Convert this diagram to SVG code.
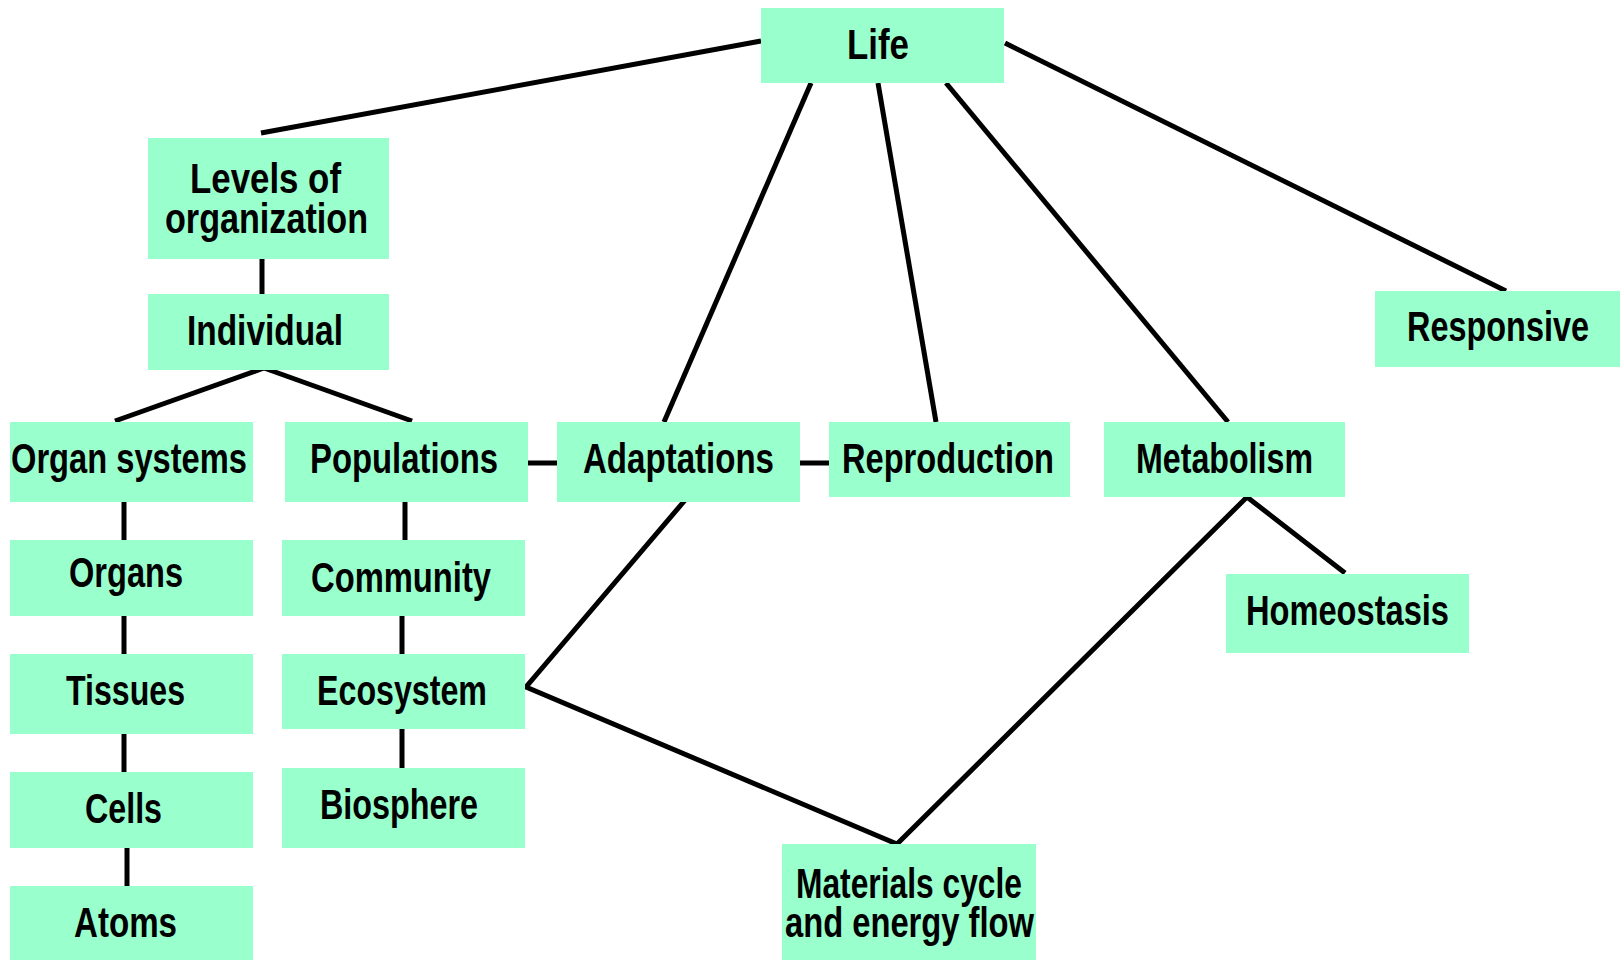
<svg xmlns="http://www.w3.org/2000/svg" width="1624" height="960" viewBox="0 0 1624 960">
<style>
.box{fill:#99ffcc}
.t{font-family:"Liberation Sans",Arial,sans-serif;font-weight:bold;font-size:42px;fill:#000}
.c{stroke:#000;stroke-width:5;fill:none;stroke-linecap:butt}
</style>
<rect width="1624" height="960" fill="#fff"/>
<g id="connectors">
<line class="c" x1="761" y1="41" x2="261" y2="133"/>
<line class="c" x1="262" y1="259" x2="262" y2="294"/>
<line class="c" x1="264" y1="368" x2="115" y2="421"/>
<line class="c" x1="264" y1="368" x2="412" y2="421"/>
<line class="c" x1="528" y1="463" x2="557" y2="463"/>
<line class="c" x1="800" y1="463" x2="829" y2="463"/>
<line class="c" x1="811" y1="83" x2="664" y2="422"/>
<line class="c" x1="878" y1="83" x2="936" y2="422"/>
<line class="c" x1="946" y1="83" x2="1228" y2="422"/>
<line class="c" x1="1005" y1="43" x2="1506" y2="291"/>
<line class="c" x1="124" y1="502" x2="124" y2="540"/>
<line class="c" x1="124" y1="616" x2="124" y2="654"/>
<line class="c" x1="124" y1="734" x2="124" y2="772"/>
<line class="c" x1="127" y1="848" x2="127" y2="886"/>
<line class="c" x1="405" y1="502" x2="405" y2="540"/>
<line class="c" x1="402" y1="616" x2="402" y2="654"/>
<line class="c" x1="402" y1="729" x2="402" y2="768"/>
<polyline class="c" points="686,499 526,687 897,844 1247,497 1345,573"/>
</g>
<g id="life"><rect class="box" x="761" y="8" width="243" height="75"/><text class="t" x="847" y="59" textLength="62" lengthAdjust="spacingAndGlyphs">Life</text></g>
<g id="levels"><rect class="box" x="148" y="138" width="241" height="121"/><text class="t" x="190" y="193" textLength="151" lengthAdjust="spacingAndGlyphs">Levels of</text><text class="t" x="165" y="233" textLength="203" lengthAdjust="spacingAndGlyphs">organization</text></g>
<g id="individual"><rect class="box" x="148" y="294" width="241" height="76"/><text class="t" x="187" y="345" textLength="156" lengthAdjust="spacingAndGlyphs">Individual</text></g>
<g id="organ-systems"><rect class="box" x="10" y="422" width="243" height="80"/><text class="t" x="11" y="473" textLength="236" lengthAdjust="spacingAndGlyphs">Organ systems</text></g>
<g id="populations"><rect class="box" x="285" y="422" width="243" height="80"/><text class="t" x="310" y="473" textLength="188" lengthAdjust="spacingAndGlyphs">Populations</text></g>
<g id="adaptations"><rect class="box" x="557" y="422" width="243" height="80"/><text class="t" x="583" y="473" textLength="191" lengthAdjust="spacingAndGlyphs">Adaptations</text></g>
<g id="reproduction"><rect class="box" x="829" y="422" width="241" height="75"/><text class="t" x="842" y="473" textLength="212" lengthAdjust="spacingAndGlyphs">Reproduction</text></g>
<g id="metabolism"><rect class="box" x="1104" y="422" width="241" height="75"/><text class="t" x="1136" y="473" textLength="177" lengthAdjust="spacingAndGlyphs">Metabolism</text></g>
<g id="responsive"><rect class="box" x="1375" y="291" width="245" height="76"/><text class="t" x="1407" y="341" textLength="182" lengthAdjust="spacingAndGlyphs">Responsive</text></g>
<g id="organs"><rect class="box" x="10" y="540" width="243" height="76"/><text class="t" x="69" y="587" textLength="114" lengthAdjust="spacingAndGlyphs">Organs</text></g>
<g id="community"><rect class="box" x="282" y="540" width="243" height="76"/><text class="t" x="311" y="592" textLength="180" lengthAdjust="spacingAndGlyphs">Community</text></g>
<g id="tissues"><rect class="box" x="10" y="654" width="243" height="80"/><text class="t" x="66" y="705" textLength="119" lengthAdjust="spacingAndGlyphs">Tissues</text></g>
<g id="ecosystem"><rect class="box" x="282" y="654" width="243" height="75"/><text class="t" x="317" y="705" textLength="170" lengthAdjust="spacingAndGlyphs">Ecosystem</text></g>
<g id="cells"><rect class="box" x="10" y="772" width="243" height="76"/><text class="t" x="85" y="823" textLength="77" lengthAdjust="spacingAndGlyphs">Cells</text></g>
<g id="biosphere"><rect class="box" x="282" y="768" width="243" height="80"/><text class="t" x="320" y="819" textLength="158" lengthAdjust="spacingAndGlyphs">Biosphere</text></g>
<g id="atoms"><rect class="box" x="10" y="886" width="243" height="74"/><text class="t" x="74" y="937" textLength="103" lengthAdjust="spacingAndGlyphs">Atoms</text></g>
<g id="homeostasis"><rect class="box" x="1226" y="574" width="243" height="79"/><text class="t" x="1246" y="625" textLength="203" lengthAdjust="spacingAndGlyphs">Homeostasis</text></g>
<g id="materials"><rect class="box" x="782" y="844" width="254" height="116"/><text class="t" x="796" y="898" textLength="226" lengthAdjust="spacingAndGlyphs">Materials cycle</text><text class="t" x="785" y="937" textLength="249" lengthAdjust="spacingAndGlyphs">and energy flow</text></g>
</svg>
